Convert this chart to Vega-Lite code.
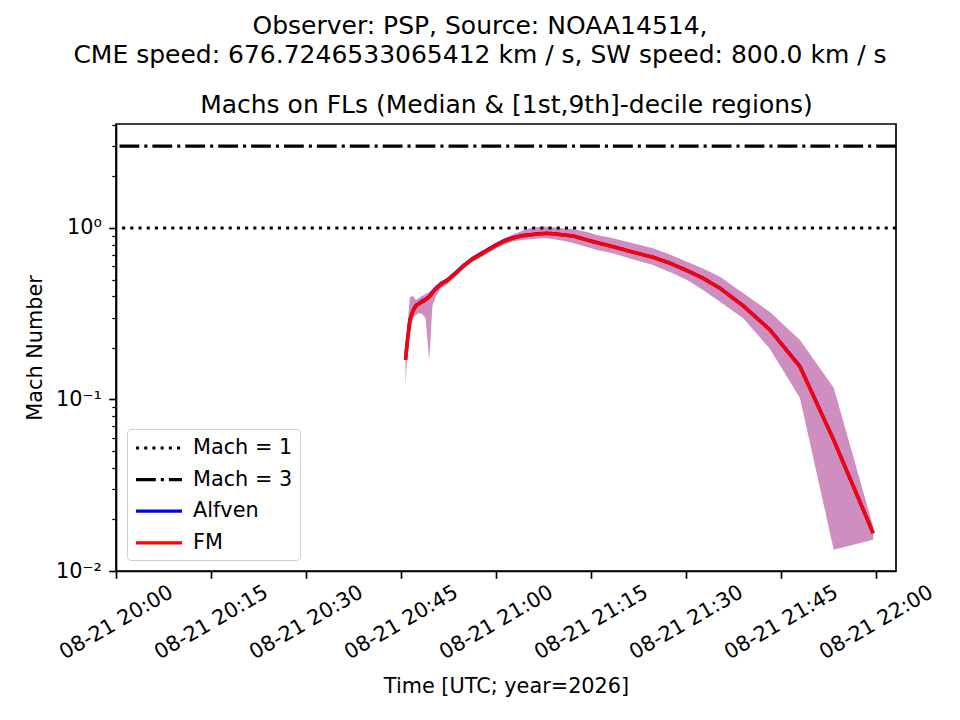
{
  "$schema": "https://vega.github.io/schema/vega-lite/v6.json",
  "description": "Machs on field lines, median and decile band",
  "width": 780,
  "height": 447,
  "autosize": "none",
  "padding": {"left": 116, "top": 124, "right": 64, "bottom": 149},
  "background": "white",
  "title": {
    "text": ["Observer: PSP, Source: NOAA14514,", "CME speed: 676.7246533065412 km / s, SW speed: 800.0 km / s"],
    "fontSize": 25,
    "fontWeight": "normal",
    "lineHeight": 29,
    "frame": "group",
    "dx": -26,
    "offset": 24,
    "color": "black"
  },
  "datasets": {
    "fl": [
      {"t": "2026-08-21T20:45:43Z", "FM": 0.170, "Alfven": 0.171, "lo": 0.1215, "hi": 0.189},
      {"t": "2026-08-21T20:46:02Z", "FM": 0.222, "Alfven": 0.223, "lo": 0.194, "hi": 0.272},
      {"t": "2026-08-21T20:46:25Z", "FM": 0.291, "Alfven": 0.292, "lo": 0.261, "hi": 0.396},
      {"t": "2026-08-21T20:46:54Z", "FM": 0.328, "Alfven": 0.330, "lo": 0.299, "hi": 0.401},
      {"t": "2026-08-21T20:47:22Z", "FM": 0.351, "Alfven": 0.353, "lo": 0.311, "hi": 0.380},
      {"t": "2026-08-21T20:47:51Z", "FM": 0.361, "Alfven": 0.363, "lo": 0.319, "hi": 0.391},
      {"t": "2026-08-21T20:48:19Z", "FM": 0.370, "Alfven": 0.373, "lo": 0.315, "hi": 0.401},
      {"t": "2026-08-21T20:48:52Z", "FM": 0.380, "Alfven": 0.383, "lo": 0.299, "hi": 0.412},
      {"t": "2026-08-21T20:49:28Z", "FM": 0.396, "Alfven": 0.399, "lo": 0.170, "hi": 0.423},
      {"t": "2026-08-21T20:49:58Z", "FM": 0.418, "Alfven": 0.421, "lo": 0.351, "hi": 0.441},
      {"t": "2026-08-21T20:50:32Z", "FM": 0.441, "Alfven": 0.445, "lo": 0.401, "hi": 0.465},
      {"t": "2026-08-21T20:51:19Z", "FM": 0.468, "Alfven": 0.472, "lo": 0.447, "hi": 0.491},
      {"t": "2026-08-21T20:52:16Z", "FM": 0.492, "Alfven": 0.496, "lo": 0.468, "hi": 0.510},
      {"t": "2026-08-21T20:53:32Z", "FM": 0.539, "Alfven": 0.543, "lo": 0.518, "hi": 0.561},
      {"t": "2026-08-21T20:54:47Z", "FM": 0.595, "Alfven": 0.600, "lo": 0.573, "hi": 0.617},
      {"t": "2026-08-21T20:56:13Z", "FM": 0.655, "Alfven": 0.660, "lo": 0.633, "hi": 0.678},
      {"t": "2026-08-21T20:57:28Z", "FM": 0.696, "Alfven": 0.702, "lo": 0.669, "hi": 0.725},
      {"t": "2026-08-21T20:59:03Z", "FM": 0.754, "Alfven": 0.760, "lo": 0.725, "hi": 0.785},
      {"t": "2026-08-21T21:00:10Z", "FM": 0.796, "Alfven": 0.802, "lo": 0.764, "hi": 0.829},
      {"t": "2026-08-21T21:01:25Z", "FM": 0.840, "Alfven": 0.846, "lo": 0.807, "hi": 0.874},
      {"t": "2026-08-21T21:02:41Z", "FM": 0.871, "Alfven": 0.877, "lo": 0.834, "hi": 0.916},
      {"t": "2026-08-21T21:04:06Z", "FM": 0.898, "Alfven": 0.903, "lo": 0.851, "hi": 0.961},
      {"t": "2026-08-21T21:05:22Z", "FM": 0.910, "Alfven": 0.914, "lo": 0.859, "hi": 0.996},
      {"t": "2026-08-21T21:06:38Z", "FM": 0.923, "Alfven": 0.926, "lo": 0.869, "hi": 1.014},
      {"t": "2026-08-21T21:08:03Z", "FM": 0.929, "Alfven": 0.931, "lo": 0.871, "hi": 1.018},
      {"t": "2026-08-21T21:09:19Z", "FM": 0.923, "Alfven": 0.925, "lo": 0.857, "hi": 1.007},
      {"t": "2026-08-21T21:10:35Z", "FM": 0.910, "Alfven": 0.911, "lo": 0.843, "hi": 0.996},
      {"t": "2026-08-21T21:12:10Z", "FM": 0.898, "Alfven": 0.899, "lo": 0.818, "hi": 0.987},
      {"t": "2026-08-21T21:14:22Z", "FM": 0.851, "Alfven": 0.852, "lo": 0.775, "hi": 0.948},
      {"t": "2026-08-21T21:15:57Z", "FM": 0.821, "Alfven": 0.822, "lo": 0.744, "hi": 0.910},
      {"t": "2026-08-21T21:18:28Z", "FM": 0.778, "Alfven": 0.779, "lo": 0.712, "hi": 0.871},
      {"t": "2026-08-21T21:21:10Z", "FM": 0.730, "Alfven": 0.731, "lo": 0.664, "hi": 0.823},
      {"t": "2026-08-21T21:24:47Z", "FM": 0.675, "Alfven": 0.676, "lo": 0.608, "hi": 0.761},
      {"t": "2026-08-21T21:27:28Z", "FM": 0.623, "Alfven": 0.624, "lo": 0.554, "hi": 0.701},
      {"t": "2026-08-21T21:30:10Z", "FM": 0.564, "Alfven": 0.565, "lo": 0.498, "hi": 0.636},
      {"t": "2026-08-21T21:32:41Z", "FM": 0.509, "Alfven": 0.510, "lo": 0.435, "hi": 0.581},
      {"t": "2026-08-21T21:35:22Z", "FM": 0.445, "Alfven": 0.446, "lo": 0.372, "hi": 0.520},
      {"t": "2026-08-21T21:39:03Z", "FM": 0.351, "Alfven": 0.352, "lo": 0.298, "hi": 0.416},
      {"t": "2026-08-21T21:43:16Z", "FM": 0.254, "Alfven": 0.255, "lo": 0.197, "hi": 0.324},
      {"t": "2026-08-21T21:48:00Z", "FM": 0.155, "Alfven": 0.156, "lo": 0.102, "hi": 0.222},
      {"t": "2026-08-21T21:53:20Z", "FM": 0.058, "Alfven": 0.058, "lo": 0.0133, "hi": 0.117},
      {"t": "2026-08-21T21:59:34Z", "FM": 0.0166, "Alfven": 0.0166, "lo": 0.0152, "hi": 0.0181}
    ],
    "mach": [
      {"series": "Mach = 1", "m": 1},
      {"series": "Mach = 3", "m": 3}
    ]
  },
  "layer": [
    {
      "layer": [
        {
          "data": {"name": "fl"},
          "mark": {"type": "area", "color": "#ce8fc0", "opacity": 1},
          "encoding": {
            "x": {
              "field": "t",
              "type": "temporal",
              "scale": {
                "type": "utc",
                "domain": [
                  {"year": 2026, "month": 8, "date": 21, "hours": 20, "minutes": 0, "utc": true},
                  {"year": 2026, "month": 8, "date": 21, "hours": 22, "minutes": 3, "seconds": 10, "utc": true}
                ]
              },
              "axis": {
                "title": "Time [UTC; year=2026]",
                "labelExpr": "utcFormat(datum.value, '%m-%d %H:%M')",
                "labelAngle": -30,
                "labelAlign": "center",
                "labelBaseline": "middle",
                "labelPadding": 44,
                "labelOverlap": false,
                "labelFlush": false,
                "titlePadding": 14,
                "values": [
                  {"year": 2026, "month": 8, "date": 21, "hours": 20, "minutes": 0, "utc": true},
                  {"year": 2026, "month": 8, "date": 21, "hours": 20, "minutes": 15, "utc": true},
                  {"year": 2026, "month": 8, "date": 21, "hours": 20, "minutes": 30, "utc": true},
                  {"year": 2026, "month": 8, "date": 21, "hours": 20, "minutes": 45, "utc": true},
                  {"year": 2026, "month": 8, "date": 21, "hours": 21, "minutes": 0, "utc": true},
                  {"year": 2026, "month": 8, "date": 21, "hours": 21, "minutes": 15, "utc": true},
                  {"year": 2026, "month": 8, "date": 21, "hours": 21, "minutes": 30, "utc": true},
                  {"year": 2026, "month": 8, "date": 21, "hours": 21, "minutes": 45, "utc": true},
                  {"year": 2026, "month": 8, "date": 21, "hours": 22, "minutes": 0, "utc": true}
                ]
              }
            },
            "y": {
              "field": "lo",
              "type": "quantitative",
              "title": "Mach Number",
              "scale": {"type": "log", "domain": [0.01, 4.04], "nice": false},
              "axis": {
                "values": [0.01, 0.02, 0.03, 0.04, 0.05, 0.06, 0.07, 0.08, 0.09, 0.1, 0.2, 0.3, 0.4, 0.5, 0.6, 0.7, 0.8, 0.9, 1, 2, 3, 4],
                "labelExpr": "datum.value == 1 ? '10⁰' : datum.value == 0.1 ? '10⁻¹' : datum.value == 0.01 ? '10⁻²' : ''",
                "tickSize": {"condition": {"test": "datum.value == 1 || datum.value == 0.1 || datum.value == 0.01", "value": 7.3}, "value": 4.2},
                "tickWidth": {"condition": {"test": "datum.value == 1 || datum.value == 0.1 || datum.value == 0.01", "value": 1.67}, "value": 1.25},
                "titlePadding": 10
              }
            },
            "y2": {"field": "hi"}
          }
        },
        {
          "data": {"name": "mach"},
          "mark": {"type": "rule", "strokeWidth": 3.1},
          "encoding": {
            "y": {"field": "m", "type": "quantitative", "title": "Mach Number"},
            "color": {
              "field": "series",
              "type": "nominal",
              "title": null,
              "scale": {"domain": ["Mach = 1", "Mach = 3", "Alfven", "FM"], "range": ["black", "black", "blue", "red"]}
            },
            "strokeDash": {
              "field": "series",
              "type": "nominal",
              "title": null,
              "scale": {"domain": ["Mach = 1", "Mach = 3", "Alfven", "FM"], "range": [[3.1, 5.1], [19.8, 5, 3.1, 5], [1, 0], [1, 0]]}
            }
          }
        }
      ]
    },
    {
      "data": {"name": "fl"},
      "transform": [{"fold": ["Alfven", "FM"], "as": ["series", "mach"]}],
      "mark": {"type": "line", "strokeWidth": 3.5},
      "encoding": {
        "x": {
          "field": "t",
          "type": "temporal",
          "scale": {
            "type": "utc",
            "domain": [
              {"year": 2026, "month": 8, "date": 21, "hours": 20, "minutes": 0, "utc": true},
              {"year": 2026, "month": 8, "date": 21, "hours": 22, "minutes": 3, "seconds": 10, "utc": true}
            ]
          },
          "axis": {
            "orient": "top",
            "labels": false,
            "ticks": false,
            "domain": false,
            "title": "Machs on FLs (Median & [1st,9th]-decile regions)",
            "titleFontSize": 25,
            "titlePadding": 7
          }
        },
        "y": {"field": "mach", "type": "quantitative", "title": "Mach Number"},
        "color": {
          "field": "series",
          "type": "nominal",
          "title": null,
          "scale": {"domain": ["Mach = 1", "Mach = 3", "Alfven", "FM"], "range": ["black", "black", "blue", "red"]}
        },
        "strokeDash": {
          "field": "series",
          "type": "nominal",
          "title": null,
          "scale": {"domain": ["Mach = 1", "Mach = 3", "Alfven", "FM"], "range": [[3.1, 5.1], [19.8, 5, 3.1, 5], [1, 0], [1, 0]]}
        }
      }
    }
  ],
  "resolve": {"axis": {"x": "independent"}},
  "config": {
    "font": "DejaVu Sans",
    "view": {"stroke": "black", "strokeWidth": 1.67},
    "axis": {
      "grid": false,
      "labelFontSize": 20.8,
      "titleFontSize": 20.8,
      "titleFontWeight": "normal",
      "labelColor": "black",
      "titleColor": "black",
      "tickColor": "black",
      "domainColor": "black",
      "tickWidth": 1.67,
      "domainWidth": 1.67,
      "tickSize": 7.3,
      "labelPadding": 7.3
    },
    "legend": {
      "orient": "bottom-left",
      "offset": 11,
      "labelFontSize": 20.8,
      "labelColor": "black",
      "symbolType": "M-2.3,0H2.3",
      "symbolSize": 400,
      "symbolStrokeWidth": 3.2,
      "symbolOffset": 13,
      "labelOffset": 22,
      "padding": 7,
      "rowPadding": 9.6,
      "strokeColor": "#cccccc",
      "fillColor": "rgba(255,255,255,0.8)",
      "cornerRadius": 4
    }
  }
}
